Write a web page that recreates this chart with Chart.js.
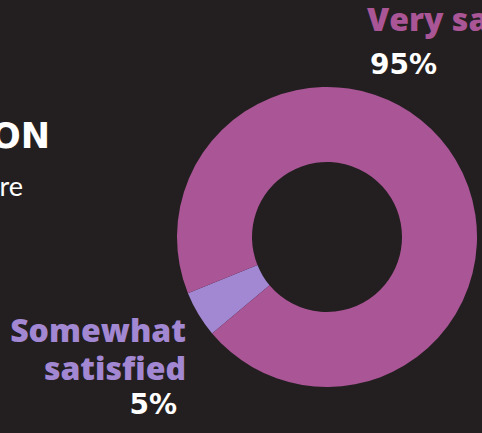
<!DOCTYPE html>
<html>
<head>
<meta charset="utf-8">
<script src="https://cdn.jsdelivr.net/npm/chart.js@4"></script>
<style>
  html, body { margin:0; padding:0; width:482px; height:433px; overflow:hidden; background:#231f20; }
  .t { position:absolute; white-space:nowrap; line-height:1; }
  #chartBox { position:absolute; left:177px; top:87px; width:300px; height:300px; }
</style>
</head>
<body>
<div class="t" id="title" style="right:432px; top:119px; font-family:'DejaVu Sans', sans-serif; font-weight:700; font-size:35px; color:#ffffff;">SATISFACTION</div>
<div class="t" id="sub" style="right:459px; top:172px; font-family:Lato, sans-serif; font-weight:400; font-size:27px; color:#ffffff;">were</div>

<div class="t" id="lab0" style="left:367px; top:3px; font-family:'Open Sans', sans-serif; font-weight:800; font-size:32px;"></div>
<div class="t" id="pct0" style="left:370px; top:51px; font-family:'DejaVu Sans', sans-serif; font-weight:700; font-size:28px; color:#ffffff;"></div>

<div class="t" id="lab1" style="right:296px; top:311px; font-family:'Open Sans', sans-serif; font-weight:800; font-size:32px; line-height:38px; text-align:right;"></div>
<div class="t" id="pct1" style="right:305px; top:391px; font-family:'DejaVu Sans', sans-serif; font-weight:700; font-size:28px; color:#ffffff;"></div>

<div id="chartBox"><canvas id="c"></canvas></div>
<script>
const categories = ["Somewhat satisfied", "Very satisfied"];
const values = [5, 95];
const colors = ["#a287d3", "#aa5596"];

document.getElementById('lab0').textContent = "Very satisfied";
document.getElementById('lab0').style.color = colors[1];
document.getElementById('pct0').textContent = values[1] + "%";
document.getElementById('lab1').innerHTML = "Somewhat<br>satisfied";
document.getElementById('lab1').style.color = colors[0];
document.getElementById('pct1').textContent = values[0] + "%";

new Chart(document.getElementById('c'), {
  type: 'doughnut',
  data: {
    labels: categories,
    datasets: [{ data: values, backgroundColor: colors, borderWidth: 0, hoverOffset: 0 }]
  },
  options: {
    responsive: true,
    maintainAspectRatio: false,
    animation: false,
    cutout: '50%',
    rotation: 230,
    layout: { padding: 0 },
    plugins: { legend: { display: false }, tooltip: { enabled: false } }
  }
});
</script>
</body>
</html>
